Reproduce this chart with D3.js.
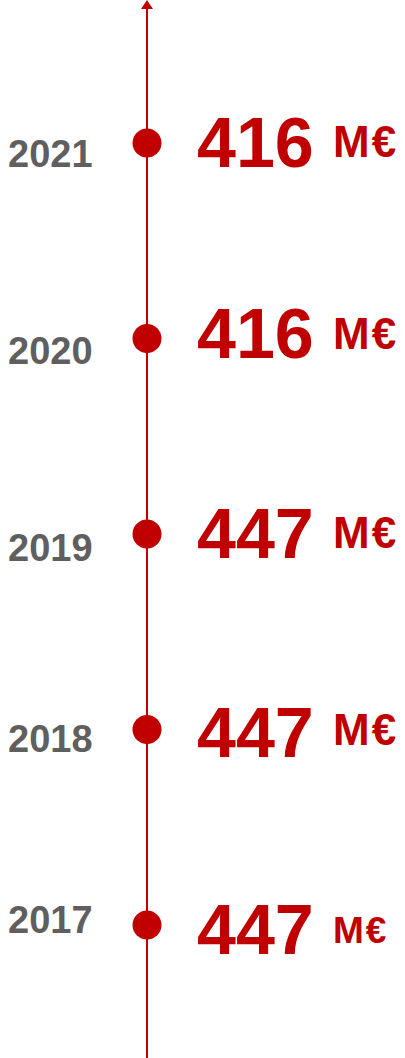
<!DOCTYPE html>
<html>
<head>
<meta charset="utf-8">
<script src="https://cdn.jsdelivr.net/npm/d3@7"></script>
<style>
  html, body { margin: 0; padding: 0; background: #fff; }
  svg { display: block; }
</style>
</head>
<body>
<svg id="chart" width="405" height="1058"></svg>
<script>
// Data
const years = ["2021", "2020", "2019", "2018", "2017"];
const values = [416, 416, 447, 447, 447];
const unit = "M€";

// Layout (per-label vertical offsets from the dot, as in the original)
const yearOffsets = [24, 25, 27, 22, 8];
const valueOffsets = [24, 19, 24, 27, 29];
const unitOffsets = [14, 10, 14, 15, 18];
const unitSizes = [44, 44, 44, 44, 37];

const red = "#C00000";
const grey = "#5F5F5F";
const font = "'Liberation Sans', Arial, sans-serif";

const svg = d3.select("#chart");
const axisX = 147;

const y = d3.scalePoint().domain(years).range([143, 925]);

// Vertical timeline with arrow head
svg.append("line")
  .attr("x1", axisX).attr("x2", axisX)
  .attr("y1", 8).attr("y2", 1058)
  .attr("stroke", red).attr("stroke-width", 2);
svg.append("path")
  .attr("d", `M${axisX},0 L${axisX - 6},9 L${axisX + 6},9 Z`)
  .attr("fill", red);

const rows = svg.selectAll("g.row")
  .data(years.map((yr, i) => ({ yr, v: values[i], i })))
  .join("g").attr("class", "row");

rows.append("circle")
  .attr("cx", axisX)
  .attr("cy", d => y(d.yr))
  .attr("r", 14.5)
  .attr("fill", red);

rows.append("text")
  .attr("x", 8)
  .attr("y", d => y(d.yr) + yearOffsets[d.i])
  .attr("font-family", font).attr("font-weight", "bold")
  .attr("font-size", 38).attr("fill", grey)
  .text(d => d.yr);

rows.append("text")
  .attr("x", 197)
  .attr("y", d => y(d.yr) + valueOffsets[d.i])
  .attr("font-family", font).attr("font-weight", "bold")
  .attr("font-size", 70).attr("fill", red)
  .text(d => d.v);

rows.append("text")
  .attr("x", 333)
  .attr("y", d => y(d.yr) + unitOffsets[d.i])
  .attr("font-family", font).attr("font-weight", "bold")
  .attr("font-size", d => unitSizes[d.i]).attr("fill", red)
  .attr("letter-spacing", 2)
  .text(unit);
</script>
</body>
</html>
